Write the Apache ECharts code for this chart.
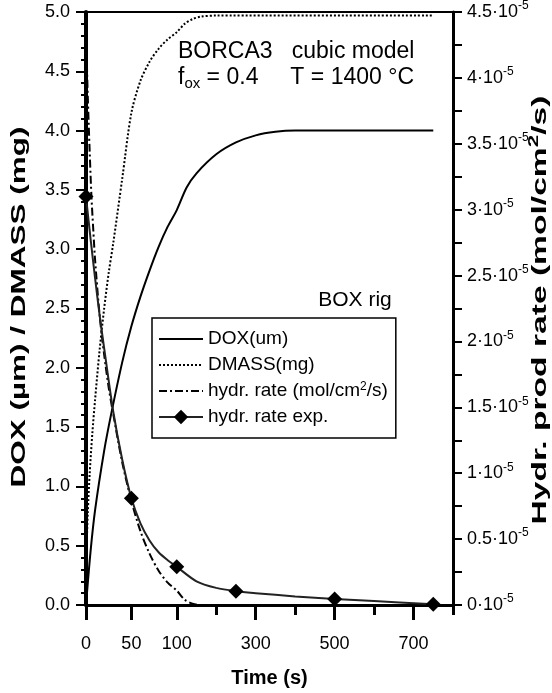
<!DOCTYPE html>
<html>
<head>
<meta charset="utf-8">
<script src="https://cdn.jsdelivr.net/npm/echarts@6/dist/echarts.min.js"></script>
<style>
  html, body { margin: 0; padding: 0; background: #fff; }
  #chart { width: 552px; height: 693px; }
</style>
</head>
<body>
<div id="chart"></div>
<script>
// DOX (um) and DMASS (mg), time in s
const doxTime = [0, 5, 10, 20, 28, 40, 50, 60, 70, 80, 90, 100, 125, 150, 200, 250, 300, 350, 400, 500, 750]
const dox = [0, 0.45, 0.8, 1.3, 1.62, 2.05, 2.35, 2.6, 2.82, 3.02, 3.19, 3.33, 3.52, 3.64, 3.8, 3.9, 3.96, 3.99, 4.0, 4.0, 4.0]

const dmassTime = [0, 1, 2, 4, 7, 10, 15, 20, 25, 30, 40, 50, 60, 70, 80, 90, 100, 120, 140, 160, 200, 750]
const dmass = [0, 0.55, 0.78, 1.1, 1.45, 1.73, 2.15, 2.5, 2.8, 3.05, 3.6, 4.15, 4.42, 4.58, 4.69, 4.77, 4.83, 4.9, 4.94, 4.96, 4.97, 4.97]

// hydrogen rates, in units of 1e-5 mol/cm2/s (right axis)
const rateTime = [0, 1, 2, 4, 6, 8, 10, 15, 20, 25, 30, 40, 50, 60, 70, 80, 90, 100, 120, 140, 160, 200, 750]
const rateModel = [4.35, 4.1, 3.85, 3.45, 3.1, 2.85, 2.62, 2.2, 1.9, 1.65, 1.45, 1.08, 0.79, 0.56, 0.39, 0.26, 0.17, 0.11, 0.04, 0.01, 0, 0, 0]

const expCurveTime = [0, 5, 10, 15, 20, 30, 40, 50, 60, 70, 80, 90, 100, 150, 200, 250, 300, 400, 500, 600, 750]
const expCurve = [3.1, 2.78, 2.48, 2.2, 1.95, 1.47, 1.1, 0.81, 0.62, 0.49, 0.4, 0.34, 0.29, 0.18, 0.13, 0.105, 0.09, 0.065, 0.045, 0.03, 0.005]
// measured points (diamonds)
const expTime = [0, 50, 100, 250, 500, 750]

// time axis ticks
const xLabelTimes = [0, 50, 100, 300, 500, 700]
const xMinorTimes = [200, 400, 600, 800]

const FONT = '"Liberation Sans", Arial, sans-serif'
const RATE_NAME = 'hydr. rate (mol/cm2/s)'

// time axis is stretched below 100 s
const toAxis = t => (t <= 100 ? t * 0.023 : 2.3 + (t - 100) * 0.01)
const fromAxis = u => (u <= 2.3 ? u / 0.023 : 100 + (u - 2.3) / 0.01)
const pairs = (ts, vs) => ts.map((t, i) => [toAxis(t), vs[i]])

const chart = echarts.init(document.getElementById('chart'))

const expData = expCurveTime.map((t, i) => ({
  value: [toAxis(t), expCurve[i]],
  symbol: expTime.includes(t) ? 'diamond' : 'none'
}))

// no marker in the legend for the plain lines
const noMark = { color: 'transparent', borderWidth: 0 }

chart.setOption({
  animation: false,
  backgroundColor: '#fff',
  textStyle: { fontFamily: FONT },
  grid: {
    left: 86, right: 99, top: 10, bottom: 81,
    show: true, borderColor: '#000', borderWidth: 2
  },
  xAxis: [
    {
      type: 'value',
      min: 0,
      max: toAxis(800),
      position: 'bottom',
      axisLine: { onZero: false, lineStyle: { color: '#000', width: 3 } },
      axisTick: {
        customValues: xLabelTimes.map(toAxis),
        length: 15,
        lineStyle: { color: '#000', width: 3 }
      },
      axisLabel: {
        customValues: xLabelTimes.map(toAxis),
        formatter: v => String(Math.round(fromAxis(v))),
        margin: 30,
        fontSize: 18,
        color: '#000',
        fontFamily: FONT
      },
      splitLine: { show: false },
      name: 'Time (s)',
      nameLocation: 'middle',
      nameGap: 63,
      nameTextStyle: { fontSize: 20, fontWeight: 'bold', color: '#000', fontFamily: FONT }
    },
    {
      type: 'value',
      min: 0,
      max: toAxis(800),
      position: 'bottom',
      axisLine: { show: false, onZero: false },
      axisTick: {
        customValues: xMinorTimes.map(toAxis),
        length: 10,
        lineStyle: { color: '#000', width: 3 }
      },
      axisLabel: { show: false },
      splitLine: { show: false }
    }
  ],
  yAxis: [
    {
      type: 'value',
      min: 0,
      max: 5,
      interval: 0.5,
      position: 'left',
      axisLine: { show: true, onZero: false, lineStyle: { color: '#000', width: 4 } },
      axisTick: { show: true, length: 10, lineStyle: { color: '#000', width: 2 } },
      minorTick: { show: true, splitNumber: 5, length: 5, lineStyle: { color: '#000', width: 2 } },
      axisLabel: {
        formatter: v => v.toFixed(1),
        fontSize: 18,
        margin: 16,
        color: '#000',
        fontFamily: FONT
      },
      splitLine: { show: false }
    },
    {
      type: 'value',
      min: 0,
      max: 4.5,
      interval: 0.5,
      position: 'right',
      axisLine: { show: true, onZero: false, lineStyle: { color: '#000', width: 3 } },
      axisTick: { show: true, length: 9, lineStyle: { color: '#000', width: 2 } },
      minorTick: { show: true, splitNumber: 2, length: 9, lineStyle: { color: '#000', width: 2 } },
      axisLabel: {
        formatter: v => '{n|' + String(Math.round(v * 10) / 10) + '·10}{s|-5}',
        margin: 14,
        color: '#000',
        rich: {
          n: { fontSize: 18, lineHeight: 24, fontFamily: FONT, color: '#000' },
          s: { fontSize: 12, lineHeight: 12, verticalAlign: 'top', fontFamily: FONT, color: '#000' }
        }
      },
      splitLine: { show: false }
    }
  ],
  legend: {
    orient: 'vertical',
    left: 152,
    top: 318,
    itemWidth: 44,
    itemHeight: 18,
    itemGap: 6,
    padding: [11, 8, 11, 6],
    borderColor: '#000',
    borderWidth: 1.5,
    backgroundColor: '#fff',
    selectedMode: false,
    data: ['DOX(um)', 'DMASS(mg)', RATE_NAME, 'hydr. rate exp.'],
    formatter: name => (name === RATE_NAME ? 'hydr. rate (mol/cm{s|2}/s)' : name),
    textStyle: {
      fontSize: 19,
      lineHeight: 20,
      color: '#000',
      fontFamily: FONT,
      rich: {
        s: { fontSize: 12, lineHeight: 12, verticalAlign: 'top', fontFamily: FONT, color: '#000' }
      }
    }
  },
  graphic: [
    {
      type: 'text',
      x: 19, y: 307,
      rotation: Math.PI / 2,
      scaleX: 1.5,
      style: {
        text: 'DOX (µm) / DMASS (mg)',
        font: 'bold 21px ' + FONT,
        fill: '#000',
        align: 'center',
        verticalAlign: 'middle'
      }
    },
    {
      type: 'text',
      x: 540, y: 310,
      rotation: Math.PI / 2,
      scaleX: 1.6,
      style: {
        text: '{b|Hydr. prod rate (mol/cm}{s|2}{b|/s)}',
        fill: '#000',
        align: 'center',
        verticalAlign: 'middle',
        rich: {
          b: { fontSize: 21, fontWeight: 'bold', fontFamily: FONT, lineHeight: 26, fill: '#000' },
          s: { fontSize: 14, fontWeight: 'bold', fontFamily: FONT, lineHeight: 14, verticalAlign: 'top', fill: '#000' }
        }
      }
    },
    {
      type: 'text',
      x: 178, y: 52,
      style: {
        text: 'BORCA3   cubic model',
        font: '23px ' + FONT,
        fill: '#000',
        verticalAlign: 'middle'
      }
    },
    {
      type: 'text',
      x: 178, y: 78,
      style: {
        text: '{m|f}{d|ox}{m| = 0.4     T = 1400 °C}',
        verticalAlign: 'middle',
        rich: {
          m: { fontSize: 23, lineHeight: 26, fontFamily: FONT, fill: '#000' },
          d: { fontSize: 15, lineHeight: 15, verticalAlign: 'bottom', fontFamily: FONT, fill: '#000' }
        }
      }
    },
    {
      type: 'text',
      x: 355, y: 300,
      style: {
        text: 'BOX rig',
        font: '21px ' + FONT,
        fill: '#000',
        align: 'center',
        verticalAlign: 'middle'
      }
    }
  ],
  series: [
    {
      name: 'DOX(um)',
      type: 'line',
      yAxisIndex: 0,
      data: pairs(doxTime, dox),
      symbol: 'none',
      smooth: 0.3,
      itemStyle: noMark,
      lineStyle: { color: '#000', width: 2 }
    },
    {
      name: 'DMASS(mg)',
      type: 'line',
      yAxisIndex: 0,
      data: pairs(dmassTime, dmass),
      symbol: 'none',
      smooth: 0.3,
      itemStyle: noMark,
      lineStyle: { color: '#000', width: 2, type: [2, 2] }
    },
    {
      name: RATE_NAME,
      type: 'line',
      yAxisIndex: 1,
      data: pairs(rateTime, rateModel),
      symbol: 'none',
      smooth: 0.3,
      itemStyle: noMark,
      lineStyle: { color: '#000', width: 2, type: [8, 3, 2, 3] }
    },
    {
      name: 'hydr. rate exp.',
      type: 'line',
      yAxisIndex: 1,
      data: expData,
      symbol: 'diamond',
      symbolSize: 15,
      showAllSymbol: true,
      smooth: 0.3,
      z: 5,
      itemStyle: { color: '#000' },
      lineStyle: { color: '#222', width: 2 }
    }
  ]
})
</script>
</body>
</html>
